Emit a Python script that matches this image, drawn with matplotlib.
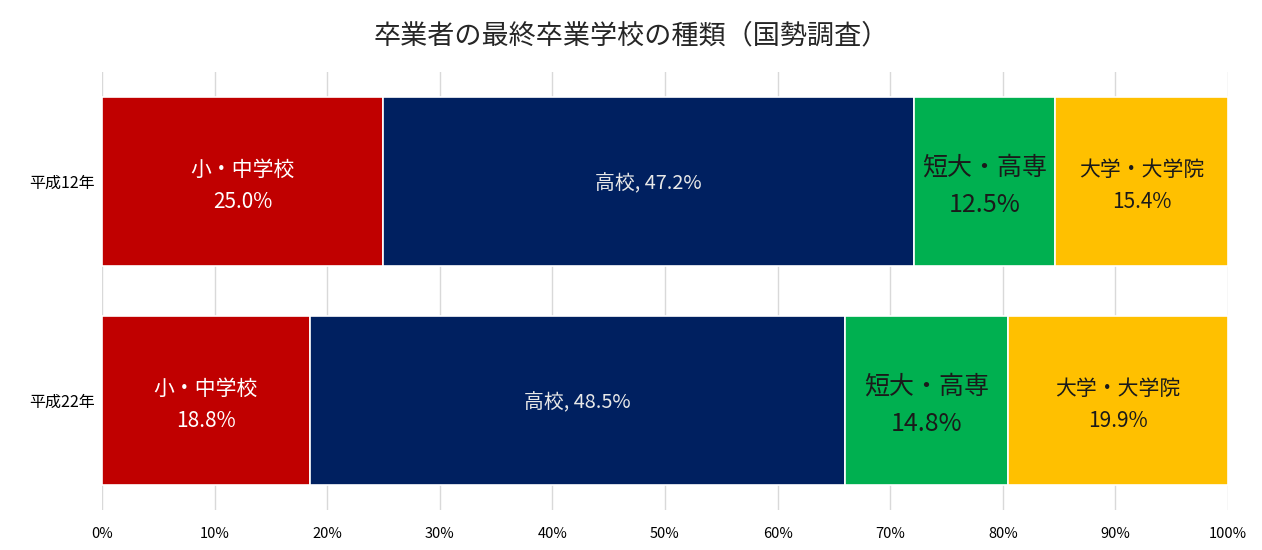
import matplotlib
matplotlib.use("Agg")
import matplotlib.pyplot as plt
import numpy as np

plt.rcParams['font.family'] = ['Noto Sans CJK JP', 'DejaVu Sans']

years = ['平成12年', '平成22年']
categories = ['小・中学校', '高校', '短大・高専', '大学・大学院']
values = {
    '小・中学校': [25.0, 18.8],
    '高校': [47.2, 48.5],
    '短大・高専': [12.5, 14.8],
    '大学・大学院': [15.4, 19.9],
}
colors = ['#C00000', '#002060', '#00B050', '#FFC000']
text_colors = ['white', '#E8E8E8', '#1a1a1a', '#1a1a1a']
xticks = [0, 10, 20, 30, 40, 50, 60, 70, 80, 90, 100]
title = '卒業者の最終卒業学校の種類（国勢調査）'

fig = plt.figure(figsize=(12.62, 5.5), dpi=100)
ax = fig.add_axes([102/1262, 40/550, 1126/1262, 438/550])

data = np.array([values[c] for c in categories])
totals = data.sum(axis=0)
pct = data / totals * 100
y = np.arange(len(years))
left = np.zeros(len(years))
for i, cat in enumerate(categories):
    ax.barh(y, pct[i], left=left, height=0.77, color=colors[i],
            edgecolor='white', linewidth=1.2, zorder=3)
    for j in range(len(years)):
        cx = float(left[j] + pct[i][j] / 2)
        v = data[i][j]
        if cat == '高校':
            ax.text(cx, y[j] + 0.012, f'{cat}, {v:.1f}%', ha='center', va='center',
                    color=text_colors[i], fontsize=14.3, zorder=4)
        else:
            fs = 18 if cat == '短大・高専' else 15
            ax.text(cx, y[j] + 0.022, f'{cat}\n{v:.1f}%', ha='center', va='center',
                    color=text_colors[i], fontsize=fs, linespacing=1.6, zorder=4)
    left = left + pct[i]

ax.set_xlim(0, 100)
ax.set_ylim(1.5, -0.5)
ax.set_xticks(xticks)
ax.set_xticklabels([f'{t}%' for t in xticks], fontsize=10.5)
ax.set_yticks(y)
ax.set_yticklabels(years, fontsize=11.5)
ax.tick_params(axis='x', length=0, pad=12)
ax.tick_params(axis='y', length=0, pad=5)
ax.xaxis.grid(True, color='#D9D9D9', linewidth=1, zorder=0)
for s in ax.spines.values():
    s.set_visible(False)
fig.text(0.5, 1 - 36/550, title, ha='center', va='center', fontsize=19.5, color='#262626')

fig.savefig('out.png', dpi=100)
